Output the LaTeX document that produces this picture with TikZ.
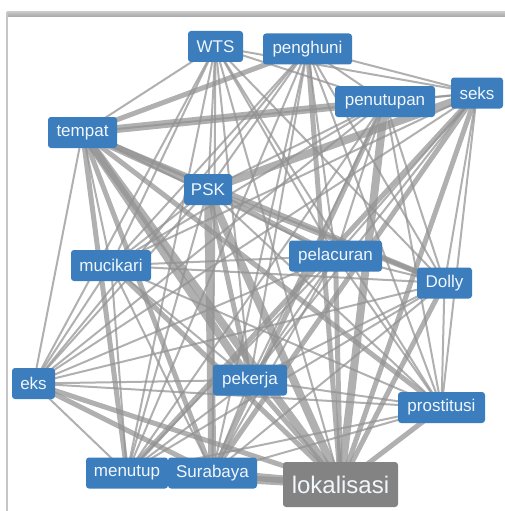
\documentclass[tikz,border=0pt]{standalone}
\usepackage{fontspec}
\setmainfont{Liberation Sans}
\usetikzlibrary{backgrounds}
\definecolor{nodeblue}{RGB}{59,125,189}
\definecolor{nodegrey}{RGB}{131,131,131}
\definecolor{txtlight}{RGB}{240,246,252}
\definecolor{edgegrey}{RGB}{145,145,145}
\tikzset{
  term/.style={fill=nodeblue, rounded corners=3pt, text=txtlight, inner sep=0pt,
    minimum height=31pt, font=\fontsize{17}{19}\selectfont},
  hub/.style={fill=nodegrey, rounded corners=3pt, text=txtlight, inner sep=0pt,
    minimum height=45pt, minimum width=115pt, font=\fontsize{24}{28}\selectfont},
  thinedge/.style={draw=edgegrey, opacity=0.72, line width=2pt},
  midedge/.style={draw=edgegrey, opacity=0.72, line width=5pt},
  heavyedge/.style={draw=edgegrey, opacity=0.72, line width=8pt},
}
\begin{document}
\begin{tikzpicture}[x=1pt,y=-1pt]
\useasboundingbox (0,0) rectangle (505,511);
\node[term, minimum width=55pt] (W) at (215.5,46.5) {WTS};
\node[term, minimum width=89pt] (ph) at (307.5,49) {penghuni};
\node[term, minimum width=100pt] (pt) at (385,101.5) {penutupan};
\node[term, minimum width=52pt] (sk) at (477,93) {seks};
\node[term, minimum width=69pt] (tp) at (82.5,132.5) {tempat};
\node[term, minimum width=48pt] (psk) at (208,189.5) {PSK};
\node[term, minimum width=80pt] (mc) at (111,265.5) {mucikari};
\node[term, minimum width=93pt] (pl) at (335.5,256) {pelacuran};
\node[term, minimum width=55pt] (dl) at (444.5,283) {Dolly};
\node[term, minimum width=43pt] (ek) at (33.5,383.5) {eks};
\node[term, minimum width=74pt] (pk) at (250,380) {pekerja};
\node[term, minimum width=87pt] (pr) at (441.5,407.5) {prostitusi};
\node[term, minimum width=82pt] (mn) at (127,473) {menutup};
\node[term, minimum width=89pt] (sb) at (212.5,473) {Surabaya};
\node[hub] (lk) at (340.5,484.5) {lokalisasi};
\begin{scope}[on background layer]
  \shade[top color=gray!45, bottom color=gray!70] (7,12) rectangle (505,17);
  \draw[gray!45, line width=1.5pt] (7,12) -- (7,511);
  \foreach \a/\b in {W/pt,W/sk,W/tp,W/psk,W/mc,W/pl,W/dl,W/ek,W/pk,W/pr,W/mn,W/sb,W/lk,
    ph/pt,ph/sk,ph/psk,ph/mc,ph/pl,ph/dl,ph/ek,ph/pk,ph/pr,ph/mn,ph/sb,
    pt/sk,pt/psk,pt/mc,pt/pl,pt/dl,pt/ek,pt/pk,pt/pr,pt/mn,
    sk/tp,sk/mc,sk/pl,sk/dl,sk/ek,sk/pk,sk/pr,
    tp/mc,tp/pl,tp/ek,
    psk/mc,psk/ek,psk/pr,psk/mn,
    mc/pl,mc/dl,mc/ek,mc/pk,mc/pr,mc/mn,mc/sb,
    pl/dl,pl/ek,pl/pk,pl/pr,pl/mn,pl/sb,
    dl/ek,dl/pk,dl/pr,dl/mn,dl/sb,
    ek/pk,ek/pr,ek/mn,
    pk/pr,pk/mn,pk/sb,
    pr/mn,pr/sb}
    \draw[thinedge] (\a.center) -- (\b.center);
  \foreach \a/\b in {tp/ph,tp/mn,tp/sb,tp/pr,tp/dl,psk/pk,psk/dl,pl/lk,dl/lk,pr/lk,
    sk/lk,ek/lk,ph/lk,mc/lk,pk/lk,sk/sb,pt/sb,psk/pl,sk/mn,ek/sb}
    \draw[midedge] (\a.center) -- (\b.center);
  \foreach \a/\b in {tp/pt,tp/psk,psk/sk,psk/lk,mn/lk,sb/lk,pt/lk,tp/lk,psk/sb,tp/pk}
    \draw[heavyedge] (\a.center) -- (\b.center);
\end{scope}
\end{tikzpicture}
\end{document}
